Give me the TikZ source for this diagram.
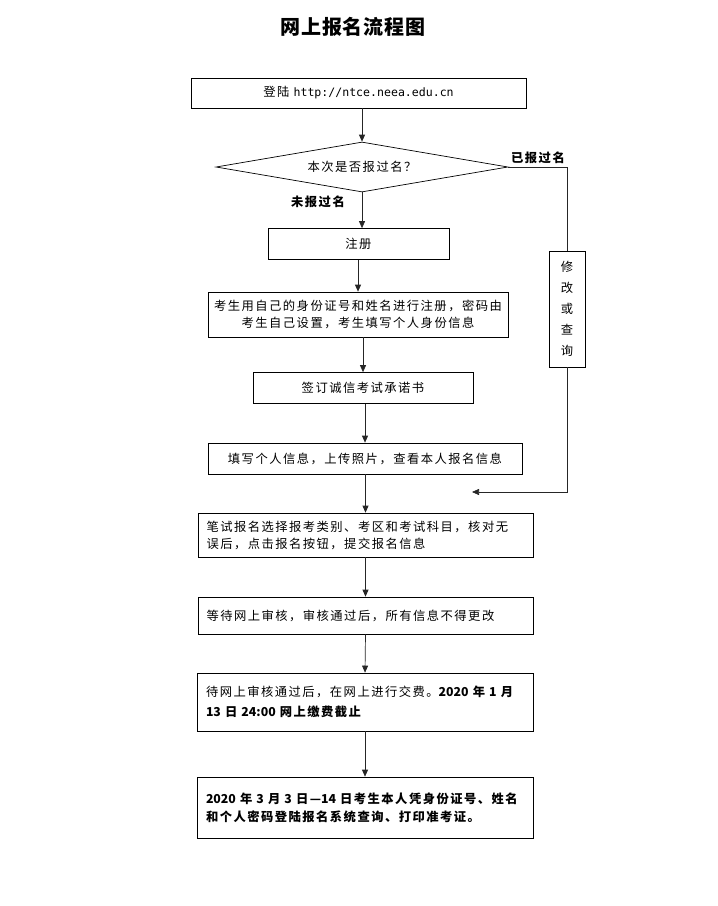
\documentclass[tikz,border=0pt]{standalone}
\usepackage{fontspec}
\setmainfont{Noto Sans CJK SC}[LetterSpace=12]
\setmonofont{DejaVu Sans Mono}[Scale=0.94]
\newfontfamily\titlefont{Noto Sans CJK SC}[LetterSpace=4]
\newfontfamily\digitfont{Noto Sans CJK SC}
\usepackage{tikz}
\usetikzlibrary{shapes.geometric, arrows.meta, positioning, calc}

\begin{document}
\begin{tikzpicture}[x=1pt, y=-1pt,
                every node/.style={font=\fontsize{12.3}{17}\selectfont},
                box/.style={rectangle, draw, line width=0.7pt, inner sep=0pt, align=center},
                lbox/.style={box, align=left, text width=#1},
                decide/.style={diamond, draw, line width=0.7pt, inner sep=0pt, shape aspect=5.8, minimum width=292pt, minimum height=50pt},
                arr/.style={-{Triangle[length=7pt, width=6pt]}, line width=0.7pt, draw=black!85},
                lbl/.style={font=\fontsize{12.3}{14}\selectfont\bfseries, inner sep=1pt}
            ]
                \useasboundingbox (0,0) rectangle (718,906);
                \node[font=\titlefont\fontsize{20}{24}\selectfont\bfseries] (title) at (353,27) {网上报名流程图};

                \node[box, minimum width=335pt, minimum height=30pt] (login) at (358.5,93) {登陆 {\ttfamily http://ntce.neea.edu.cn}};
                \node[decide] (ask) at (362,167) {本次是否报过名？};
                \node[box, minimum width=181pt, minimum height=31pt] (reg) at (358.5,244) {注册};
                \node[box, minimum width=300pt, minimum height=45pt] (idcard) at (358,314.5) {考生用自己的身份证号和姓名进行注册，密码由\\考生自己设置，考生填写个人身份信息};
                \node[box, minimum width=220pt, minimum height=31pt] (pledge) at (363,388) {签订诚信考试承诺书};
                \node[box, minimum width=314pt, minimum height=31pt] (info) at (365,458.5) {填写个人信息，上传照片，查看本人报名信息};
                \node[lbox=318pt, minimum width=335pt, minimum height=44pt] (subject) at (365.5,535) {笔试报名选择报考类别、考区和考试科目，核对无\\误后，点击报名按钮，提交报名信息};
                \node[lbox=318pt, minimum width=335pt, minimum height=37pt] (audit) at (365.5,615.5) {等待网上审核，审核通过后，所有信息不得更改};
                \node[lbox=318pt, minimum width=336pt, minimum height=58pt, font=\fontsize{12.3}{20}\selectfont] (pay) at (365,702) {待网上审核通过后，在网上进行交费。{\bfseries{\digitfont 2020} 年 {\digitfont 1} 月}\\{\bfseries{\digitfont 13} 日 {\digitfont 24:00} 网上缴费截止}};
                \node[lbox=318pt, minimum width=336pt, minimum height=61pt, font=\fontsize{12.3}{18}\selectfont\bfseries] (ticket) at (365,807.5) {{\digitfont 2020} 年 {\digitfont 3} 月 {\digitfont 3} 日—{\digitfont 14} 日考生本人凭身份证号、姓名\\和个人密码登陆报名系统查询、打印准考证。};

                \node[box, minimum width=36pt, minimum height=116pt, font=\fontsize{12.3}{21}\selectfont] (edit) at (567,309) {修\\改\\或\\查\\询};

                \node[lbl] (no) at (318,202) {未报过名};
                \node[lbl] (yes) at (538,158) {已报过名};

                \coordinate (turn) at (567,167);
                \coordinate (back) at (472,492);

                \draw[arr] (login.south -| ask.north) -- (ask.north);
                \draw[arr] (ask.south) -- (ask.south |- reg.north);
                \draw[arr] (reg.south -| idcard.north) -- (idcard.north);
                \draw[arr] (idcard.south -| pledge.north) -- (pledge.north);
                \draw[arr] (pledge.south -| info.north) -- (info.north);
                \draw[arr] (info.south -| subject.north) -- (subject.north);
                \draw[arr] (subject.south) -- (audit.north);
                \draw[arr] (audit.south) -- (pay.north);
                \draw[arr] (pay.south) -- (ticket.north);

                \draw[line width=0.7pt, draw=black!85] (ask.east) -- (turn) -- (edit.north);
                \draw[arr] (edit.south) |- (back);
            \end{tikzpicture}
\end{document}
